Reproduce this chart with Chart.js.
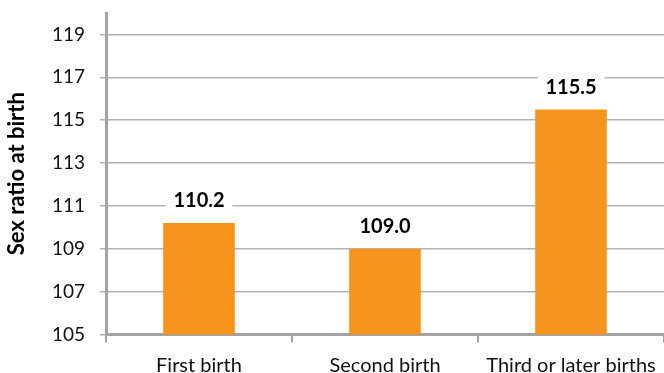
<!DOCTYPE html>
<html>
<head>
<meta charset="utf-8">
<script src="https://cdn.jsdelivr.net/npm/chart.js@4/dist/chart.umd.min.js"></script>
<style>
  html, body { margin: 0; padding: 0; background: #ffffff; }
  #wrap { width: 664px; height: 373px; }
</style>
</head>
<body>
<div id="wrap"><canvas id="c" width="664" height="373"></canvas></div>
<script>
// Sex ratio at birth by birth order
const categories = ['First birth', 'Second birth', 'Third or later births'];
const sexRatio = [110.2, 109.0, 115.5];
const yTicks = [105, 107, 109, 111, 113, 115, 117, 119];
const yTitle = 'Sex ratio at birth';

const FONT = 'Lato, "Open Sans", sans-serif';
const AXIS_GREY = '#a3a3a3';
const GRID_GREY = '#b3b3b3';
const BAR_ORANGE = '#f7941d';

// Value labels on white boxes above each bar
const valueLabels = {
  id: 'valueLabels',
  afterDatasetsDraw(chart) {
    const ctx = chart.ctx;
    const meta = chart.getDatasetMeta(0);
    const data = chart.data.datasets[0].data;
    ctx.save();
    ctx.font = 'bold 20px ' + FONT;
    ctx.textAlign = 'center';
    ctx.textBaseline = 'middle';
    meta.data.forEach((bar, i) => {
      const cx = bar.x;
      const cy = bar.y - 23;
      ctx.fillStyle = '#ffffff';
      ctx.fillRect(cx - 33.5, cy - 12, 67, 24);
      ctx.fillStyle = '#000000';
      ctx.fillText(data[i].toFixed(1), cx, cy + 1);
    });
    ctx.restore();
  }
};

new Chart(document.getElementById('c'), {
  type: 'bar',
  data: {
    labels: categories,
    datasets: [{
      data: sexRatio,
      backgroundColor: BAR_ORANGE,
      borderWidth: 0,
      barPercentage: 0.55,
      categoryPercentage: 0.7
    }]
  },
  options: {
    responsive: false,
    devicePixelRatio: 1,
    animation: false,
    layout: { padding: { top: 13, right: 0, bottom: 0, left: 0 } },
    plugins: {
      legend: { display: false },
      tooltip: { enabled: false }
    },
    scales: {
      x: {
        offset: true,
        grid: {
          offset: true,
          drawOnChartArea: false,
          drawTicks: true,
          tickLength: 8,
          color: AXIS_GREY,
          lineWidth: 2
        },
        border: { display: true, color: AXIS_GREY, width: 3 },
        ticks: {
          color: '#111111',
          font: { family: FONT, size: 20 },
          padding: 11,
          maxRotation: 0,
          autoSkip: false
        },
        afterFit(axis) {
          axis.height = 38.5;
          axis.paddingLeft = 0;
          axis.paddingRight = 0;
        }
      },
      y: {
        min: 105,
        max: 120,
        afterBuildTicks(axis) {
          axis.ticks = yTicks.map(v => ({ value: v }));
        },
        grid: {
          color: GRID_GREY,
          lineWidth: 1.5,
          drawTicks: true,
          tickLength: 6
        },
        border: { display: true, color: AXIS_GREY, width: 3 },
        ticks: {
          color: '#111111',
          font: { family: FONT, size: 19 },
          padding: 15
        },
        title: {
          display: true,
          text: yTitle,
          color: '#000000',
          font: { family: FONT, size: 22, weight: 'bold' },
          padding: { top: 4, bottom: 0 }
        },
        afterFit(axis) {
          axis.width = 106;
          axis.paddingTop = 0;
          axis.paddingBottom = 0;
        }
      }
    }
  },
  plugins: [valueLabels]
});
</script>
</body>
</html>
